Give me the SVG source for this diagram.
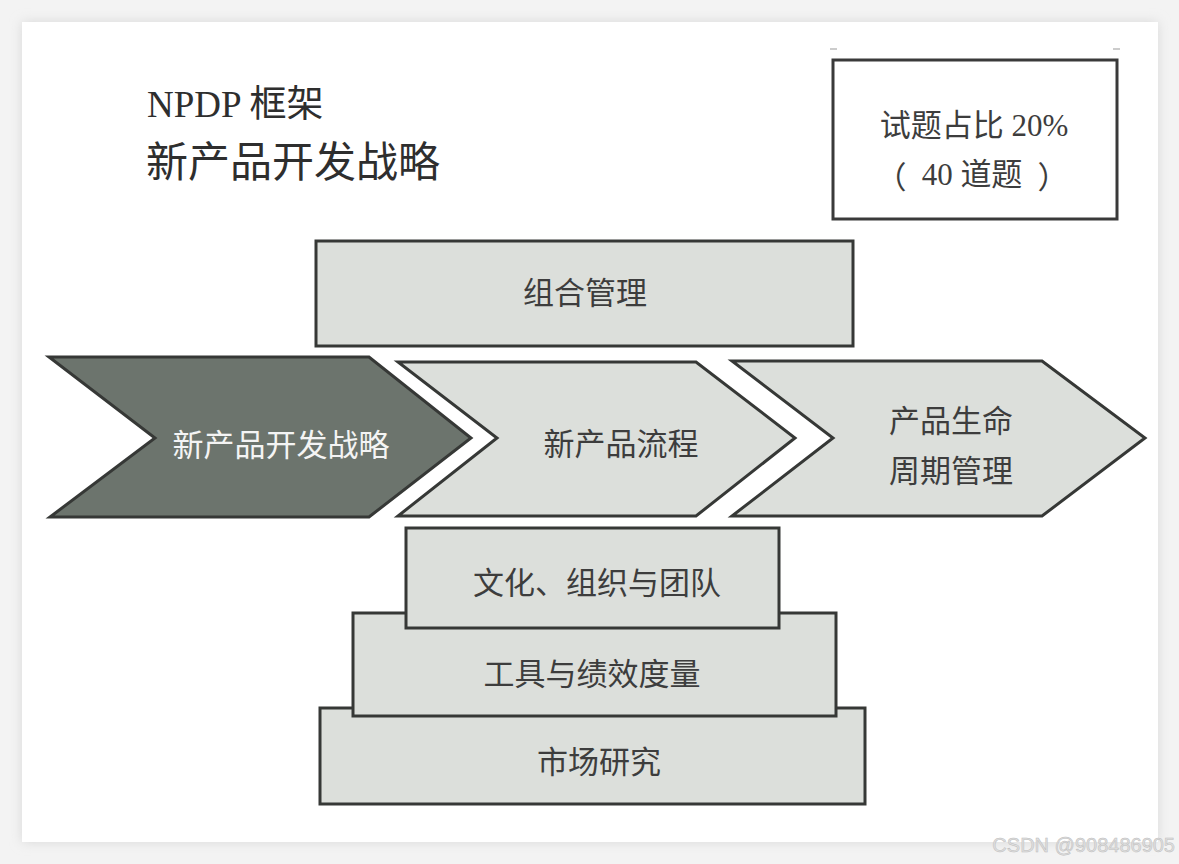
<svg xmlns="http://www.w3.org/2000/svg" width="1179" height="864" viewBox="0 0 1179 864">
  <defs>
    <filter id="shadow" x="-5%" y="-5%" width="110%" height="110%">
      <feGaussianBlur stdDeviation="6"/>
    </filter>
  </defs>
  <style>
    .box { fill: #dcdfdb; stroke: #363836; stroke-width: 3; }
    .dark { fill: #6c746d; stroke: #363836; stroke-width: 3; stroke-linejoin: miter; }
    .frame { fill: #ffffff; stroke: #3a3a3a; stroke-width: 3; }
    .lbl { font-family: "Liberation Serif", "Noto Sans CJK SC", serif; font-size: 31px; fill: #3d3d3d; text-anchor: middle; dominant-baseline: central; }
    .wlbl { font-family: "Noto Sans CJK SC", sans-serif; font-size: 31px; fill: #f4f4f4; text-anchor: middle; dominant-baseline: central; }
    .title { font-family: "Liberation Serif", "Noto Sans CJK SC", serif; fill: #2e2e2e; dominant-baseline: central; }
    .cjk { font-family: "Noto Sans CJK SC", sans-serif; }
  </style>

  <!-- background and page -->
  <rect x="0" y="0" width="1179" height="864" fill="#f3f3f3"/>
  <rect x="22" y="22" width="1136" height="820" fill="#d8d8d8" filter="url(#shadow)"/>
  <rect x="22" y="22" width="1136" height="820" fill="#ffffff"/>

  <!-- tiny marks -->
  <line x1="830" y1="49" x2="837" y2="49" stroke="#bbbbbb" stroke-width="1.5"/>
  <line x1="1113" y1="49" x2="1120" y2="49" stroke="#bbbbbb" stroke-width="1.5"/>

  <g id="title">
    <text class="title" x="147" y="104" font-size="37">NPDP 框架</text>
    <text class="title" x="146" y="163" font-size="42">新产品开发战略</text>
  </g>

  <g id="share-box">
    <rect class="frame" x="833" y="60" width="284" height="159"/>
    <text class="lbl" x="974" y="125" font-size="32">试题占比 20%</text>
    <text class="lbl" x="972" y="174" font-size="32"><tspan class="cjk" x="891">（</tspan><tspan x="972">40 道题</tspan><tspan class="cjk" x="1053">）</tspan></text>
  </g>

  <g id="portfolio">
    <rect class="box" x="316" y="241" width="537" height="105"/>
    <text class="lbl" x="585" y="293">组合管理</text>
  </g>

  <g id="strategy">
    <polygon class="dark" points="49,357 369,357 471,438 369,517 50,517 155,438"/>
    <text class="wlbl" x="281" y="442">新产品开发战略</text>
  </g>

  <g id="process">
    <polygon class="box" points="398,362 696,362 795,438 696,516 398,516 497,438"/>
    <text class="lbl" x="621" y="444">新产品流程</text>
  </g>

  <g id="lifecycle">
    <polygon class="box" points="732,361 1042,361 1145,438 1042,516 732,516 833,438"/>
    <text class="lbl" x="951" y="421">产品生命</text>
    <text class="lbl" x="951" y="471">周期管理</text>
  </g>

  <g id="market-research">
    <rect class="box" x="320" y="708" width="545" height="96"/>
    <text class="lbl" x="599" y="762">市场研究</text>
  </g>

  <g id="tools-metrics">
    <rect class="box" x="353" y="613" width="483" height="103"/>
    <text class="lbl" x="592" y="674">工具与绩效度量</text>
  </g>

  <g id="culture">
    <rect class="box" x="406" y="528" width="373" height="100"/>
    <text class="lbl" x="597" y="583">文化、组织与团队</text>
  </g>

  <g id="connectors"></g>

  <text x="1175" y="852" font-family="Liberation Sans, Arial, sans-serif" font-size="20" fill="#e0e0e0" stroke="#bdbdbd" stroke-width="0.5" text-anchor="end">CSDN @908486905</text>
</svg>
